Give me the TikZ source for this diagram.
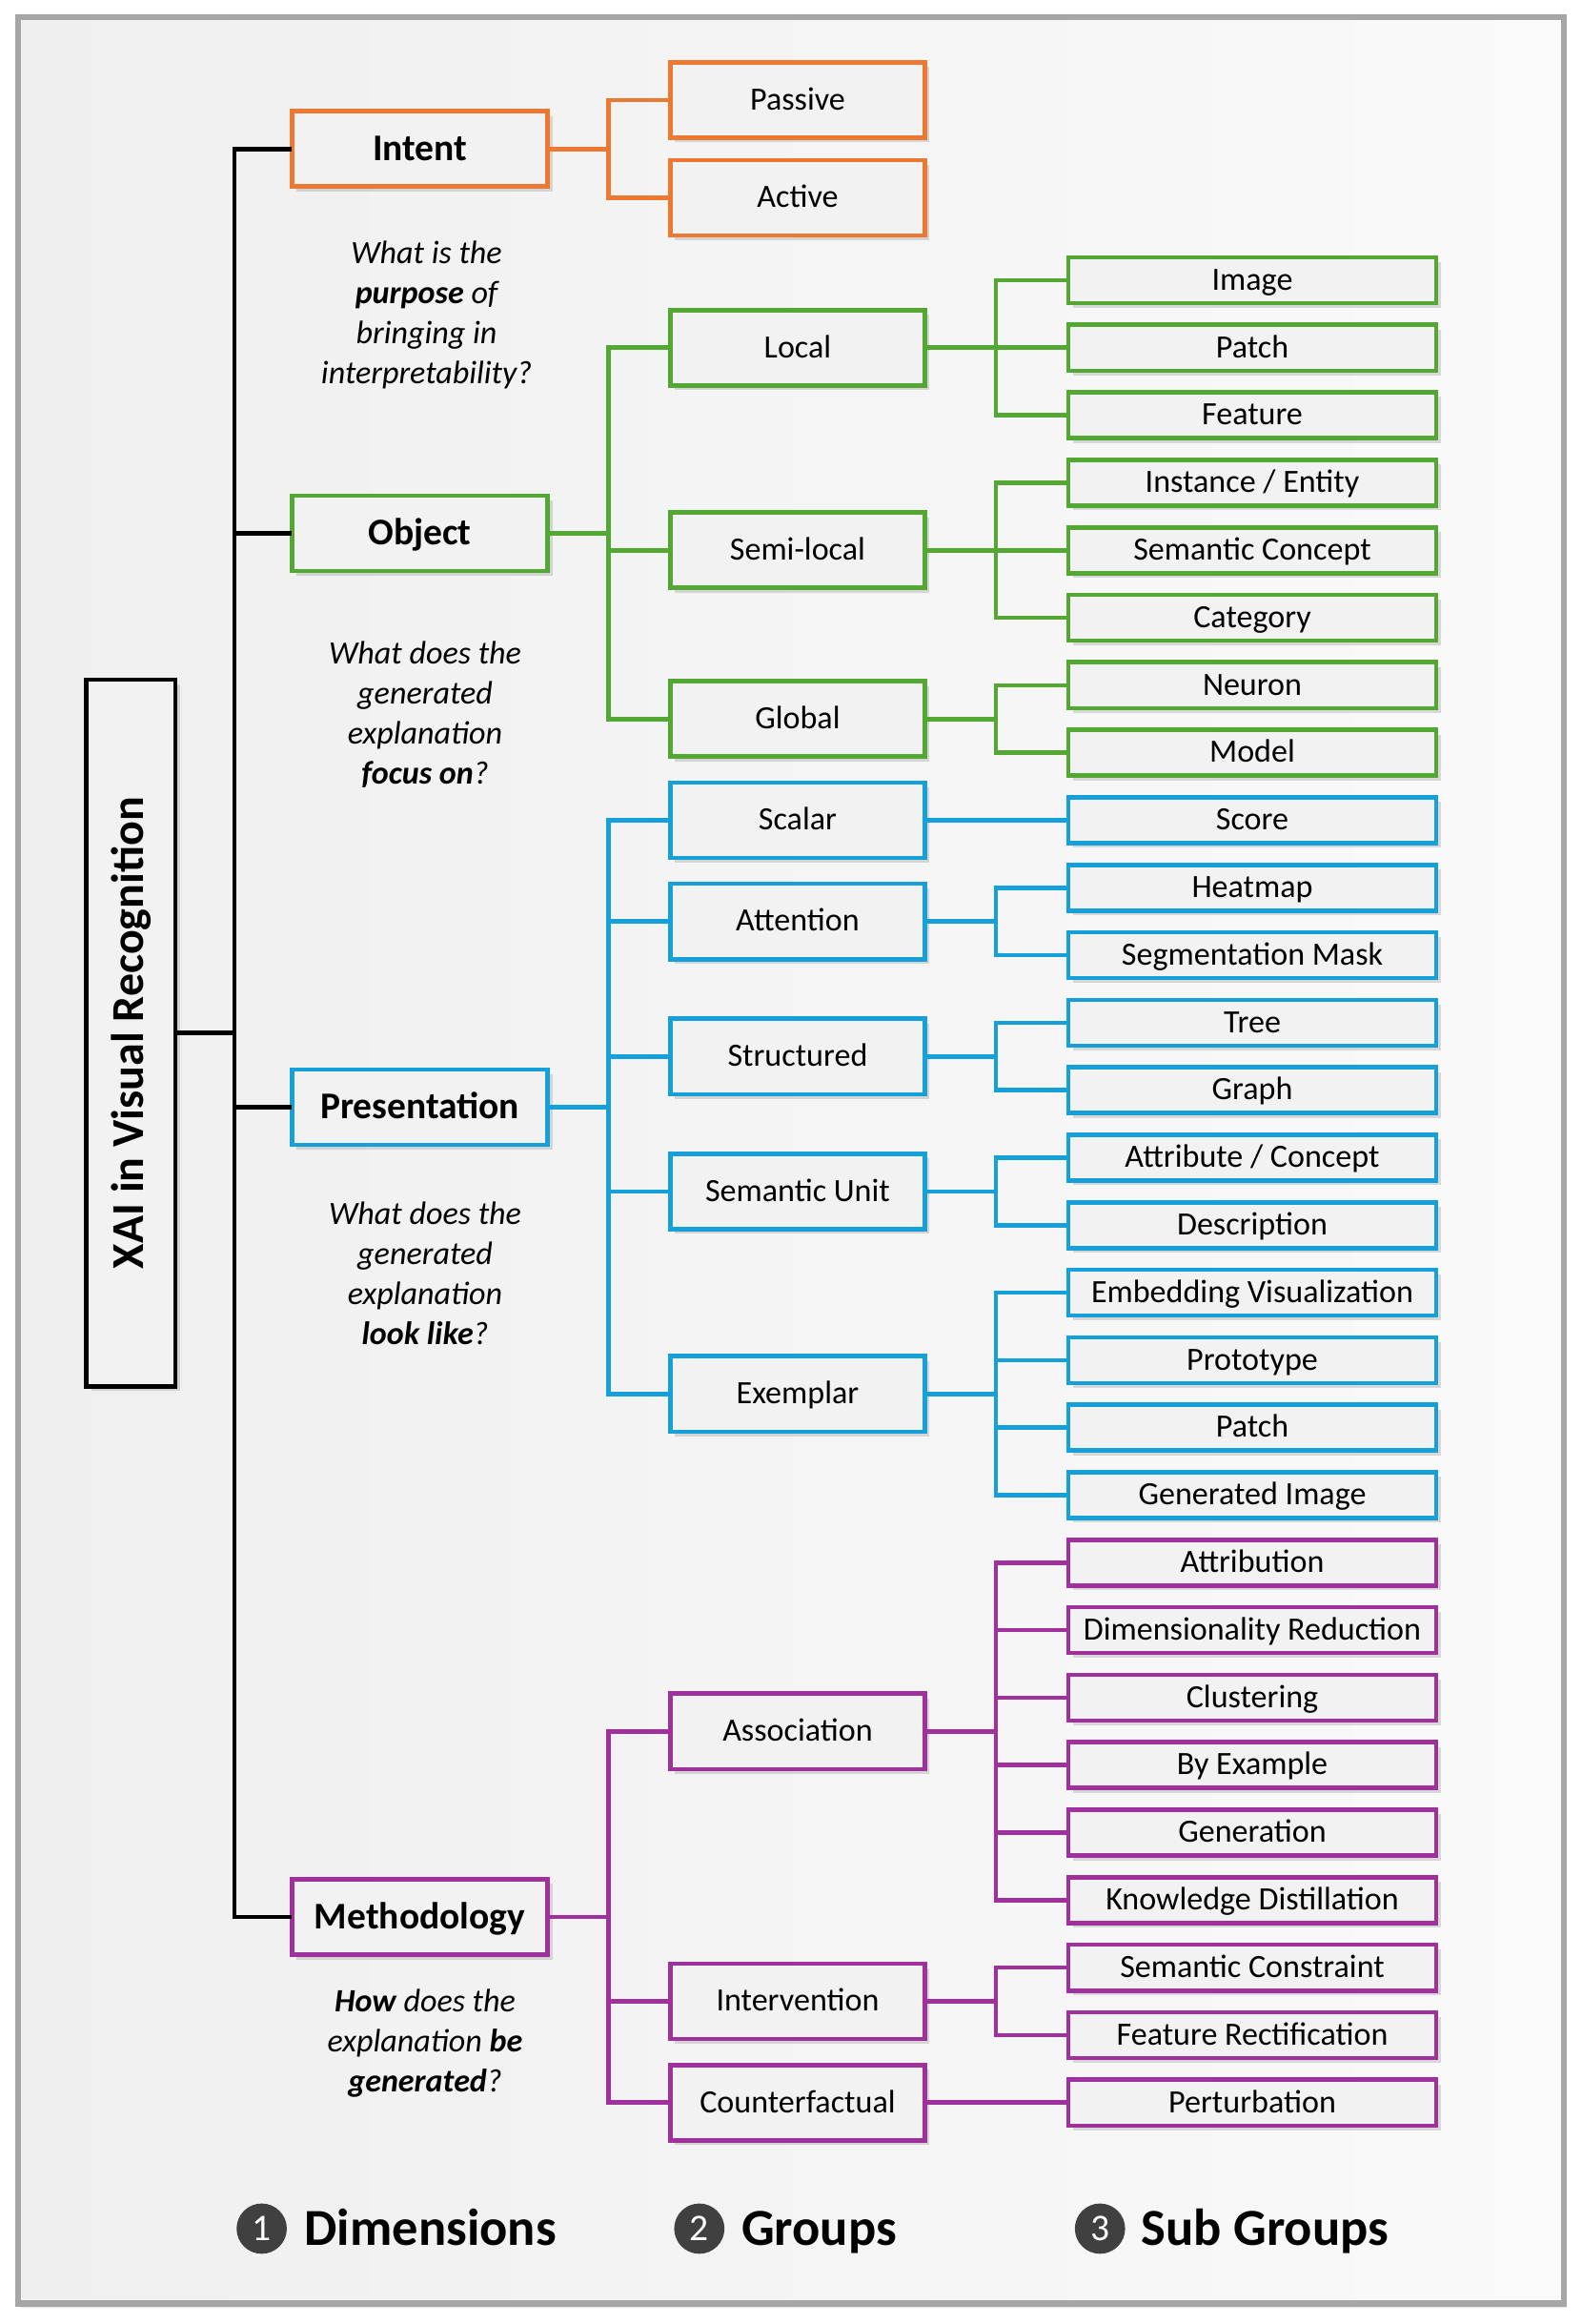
\documentclass[tikz,border=0pt]{standalone}
\usepackage{fontspec}
\setmainfont{Carlito}
\usepackage{graphicx}
\usetikzlibrary{positioning, calc, shadows}

\definecolor{cIntent}{RGB}{237,120,50}
\definecolor{cObject}{RGB}{82,168,50}
\definecolor{cPres}{RGB}{22,160,218}
\definecolor{cMethod}{RGB}{160,48,155}
\definecolor{boxfill}{RGB}{242,242,242}
\definecolor{framegray}{RGB}{166,166,166}
\definecolor{bgleft}{RGB}{239,239,239}
\definecolor{bgright}{RGB}{250,250,250}
\definecolor{legdark}{RGB}{64,64,64}

\tikzset{
  basebox/.style={rectangle, draw, line width=1.7pt, fill=boxfill, outer sep=0pt, inner xsep=2pt, inner ysep=0pt,
    drop shadow={shadow xshift=1.8pt, shadow yshift=-1.8pt, opacity=0.22, fill=black!60}},
  subbox/.style={basebox, text height=9.2pt, text depth=1.7pt, minimum width=4.98cm, minimum height=0.62cm, font=\fontsize{12.5}{15}\selectfont},
  groupbox/.style={basebox, text height=9.2pt, text depth=1.7pt, minimum width=3.44cm, minimum height=1.02cm, font=\fontsize{12.5}{15}\selectfont},
  dimbox/.style={basebox, text height=10.7pt, text depth=1.9pt, minimum width=3.46cm, minimum height=1.02cm, font=\bfseries\fontsize{14.5}{17}\selectfont},
  rootbox/.style={basebox, draw=black, minimum width=1.2cm, minimum height=9.56cm, font=\bfseries\fontsize{17.6}{20}\selectfont},
  question/.style={align=center, inner sep=0pt, font=\itshape\fontsize{12.5}{15.4}\selectfont},
  conn/.style={line width=1.7pt},
  legcircle/.style={circle, fill=legdark, text=white, minimum size=0.68cm, inner sep=0pt, outer sep=0pt, text height=10.7pt, text depth=1.6pt, font=\fontsize{14.5}{16}\selectfont},
  legtext/.style={inner sep=0pt, outer sep=0pt, text height=15pt, text depth=2.4pt, font=\bfseries\fontsize{20}{24}\selectfont}
}

\begin{document}
\begin{tikzpicture}[x=0.02cm, y=-0.02cm, node distance=0.293cm]
\useasboundingbox (0,0) rectangle (1070,1571.5);

% frame and background
\fill[black!10] (14.5,14) rectangle (1060,1560.5);
\draw[line width=0.08cm, draw=framegray, left color=bgleft, right color=bgright] (12.2,11.6) rectangle (1057.7,1557.6);

% sub groups
\node[subbox, draw=cObject] (image) at (847,189.5) {Image};
\node[subbox, draw=cObject, below=of image] (patchl) {Patch};
\node[subbox, draw=cObject, below=of patchl] (feature) {Feature};
\node[subbox, draw=cObject, below=of feature] (instance) {Instance / Entity};
\node[subbox, draw=cObject, below=of instance] (semconcept) {Semantic Concept};
\node[subbox, draw=cObject, below=of semconcept] (category) {Category};
\node[subbox, draw=cObject, below=of category] (neuron) {Neuron};
\node[subbox, draw=cObject, below=of neuron] (model) {Model};
\node[subbox, draw=cPres, below=of model] (score) {Score};
\node[subbox, draw=cPres, below=of score] (heatmap) {Heatmap};
\node[subbox, draw=cPres, below=of heatmap] (segmask) {Segmentation Mask};
\node[subbox, draw=cPres, below=of segmask] (tree) {Tree};
\node[subbox, draw=cPres, below=of tree] (graph) {Graph};
\node[subbox, draw=cPres, below=of graph] (attrconcept) {Attribute / Concept};
\node[subbox, draw=cPres, below=of attrconcept] (description) {Description};
\node[subbox, draw=cPres, below=of description] (embedding) {Embedding Visualization};
\node[subbox, draw=cPres, below=of embedding] (prototype) {Prototype};
\node[subbox, draw=cPres, below=of prototype] (patche) {Patch};
\node[subbox, draw=cPres, below=of patche] (genimage) {Generated Image};
\node[subbox, draw=cMethod, below=of genimage] (attribution) {Attribution};
\node[subbox, draw=cMethod, below=of attribution] (dimred) {Dimensionality Reduction};
\node[subbox, draw=cMethod, below=of dimred] (clustering) {Clustering};
\node[subbox, draw=cMethod, below=of clustering] (byexample) {By Example};
\node[subbox, draw=cMethod, below=of byexample] (generation) {Generation};
\node[subbox, draw=cMethod, below=of generation] (distill) {Knowledge Distillation};
\node[subbox, draw=cMethod, below=of distill] (semconstraint) {Semantic Constraint};
\node[subbox, draw=cMethod, below=of semconstraint] (rectify) {Feature Rectification};
\node[subbox, draw=cMethod, below=of rectify] (perturb) {Perturbation};

% groups
\node[groupbox, draw=cIntent] (passive) at (539.5,67.7) {Passive};
\node[groupbox, draw=cIntent, below=0.30cm of passive] (active) {Active};
\node[groupbox, draw=cObject] (local) at ($(image)!0.5!(feature)+(-307.5,0)$) {Local};
\node[groupbox, draw=cObject] (semilocal) at ($(instance)!0.5!(category)+(-307.5,0)$) {Semi-local};
\node[groupbox, draw=cObject] (global) at ($(neuron)!0.5!(model)+(-307.5,0)$) {Global};
\node[groupbox, draw=cPres] (scalar) at ($(score)+(-307.5,0)$) {Scalar};
\node[groupbox, draw=cPres] (attention) at ($(heatmap)!0.5!(segmask)+(-307.5,0)$) {Attention};
\node[groupbox, draw=cPres] (structured) at ($(tree)!0.5!(graph)+(-307.5,0)$) {Structured};
\node[groupbox, draw=cPres] (semunit) at ($(attrconcept)!0.5!(description)+(-307.5,0)$) {Semantic Unit};
\node[groupbox, draw=cPres] (exemplar) at ($(embedding)!0.5!(genimage)+(-307.5,0)$) {Exemplar};
\node[groupbox, draw=cMethod] (association) at ($(attribution)!0.5!(distill)+(-307.5,0)$) {Association};
\node[groupbox, draw=cMethod] (intervention) at ($(semconstraint)!0.5!(rectify)+(-307.5,0)$) {Intervention};
\node[groupbox, draw=cMethod] (counterfactual) at ($(perturb)+(-307.5,0)$) {Counterfactual};

% dimensions
\node[dimbox, draw=cIntent] (intent) at ($(passive)!0.5!(active)+(-255.5,0)$) {Intent};
\node[dimbox, draw=cObject] (object) at ($(local)!0.5!(global)+(-255.5,0)$) {Object};
\node[dimbox, draw=cPres] (presentation) at ($(scalar)!0.5!(exemplar)+(-255.5,0)$) {Presentation};
\node[dimbox, draw=cMethod] (methodology) at ($(association)!0.5!(counterfactual)+(-255.5,0)$) {Methodology};

\node[rootbox] (root) at ($(intent)!0.5!(methodology)+(-195.5,0)$) {\rotatebox{90}{XAI in Visual Recognition}};

% questions
\node[question] (qintent) at ($(intent)+(4.5,112.5)$) {What is the\\ \textbf{purpose} of\\ bringing in\\ interpretability?};
\node[question] (qobject) at ($(object)+(3.5,122.5)$) {What does the\\ generated\\ explanation\\ \textbf{focus on}?};
\node[question] (qpres) at ($(presentation)+(3.5,112.5)$) {What does the\\ generated\\ explanation\\ \textbf{look like}?};
\node[question] (qmethod) at ($(methodology)+(3.5,85.5)$) {\textbf{How} does the\\ explanation \textbf{be}\\ \textbf{generated}?};

% root to dimensions
\draw[conn] (root.east) -- ++(40,0) |- (intent.west);
\draw[conn] (root.east) -- ++(40,0) |- (object.west);
\draw[conn] (root.east) -- ++(40,0) |- (presentation.west);
\draw[conn] (root.east) -- ++(40,0) |- (methodology.west);

% dimensions to groups
\draw[conn, cIntent] (intent.east) -- ++(41,0) |- (passive.west);
\draw[conn, cIntent] (intent.east) -- ++(41,0) |- (active.west);
\draw[conn, cObject] (object.east) -- ++(41,0) |- (local.west);
\draw[conn, cObject] (object.east) -- ++(41,0) |- (semilocal.west);
\draw[conn, cObject] (object.east) -- ++(41,0) |- (global.west);
\draw[conn, cPres] (presentation.east) -- ++(41,0) |- (scalar.west);
\draw[conn, cPres] (presentation.east) -- ++(41,0) |- (attention.west);
\draw[conn, cPres] (presentation.east) -- ++(41,0) |- (structured.west);
\draw[conn, cPres] (presentation.east) -- ++(41,0) |- (semunit.west);
\draw[conn, cPres] (presentation.east) -- ++(41,0) |- (exemplar.west);
\draw[conn, cMethod] (methodology.east) -- ++(41,0) |- (association.west);
\draw[conn, cMethod] (methodology.east) -- ++(41,0) |- (intervention.west);
\draw[conn, cMethod] (methodology.east) -- ++(41,0) |- (counterfactual.west);

% groups to sub groups
\draw[conn, cObject] (local.east) -- ++(48,0) |- (image.west);
\draw[conn, cObject] (local.east) -- ++(48,0) |- (patchl.west);
\draw[conn, cObject] (local.east) -- ++(48,0) |- (feature.west);
\draw[conn, cObject] (semilocal.east) -- ++(48,0) |- (instance.west);
\draw[conn, cObject] (semilocal.east) -- ++(48,0) |- (semconcept.west);
\draw[conn, cObject] (semilocal.east) -- ++(48,0) |- (category.west);
\draw[conn, cObject] (global.east) -- ++(48,0) |- (neuron.west);
\draw[conn, cObject] (global.east) -- ++(48,0) |- (model.west);
\draw[conn, cPres] (scalar.east) -- (score.west);
\draw[conn, cPres] (attention.east) -- ++(48,0) |- (heatmap.west);
\draw[conn, cPres] (attention.east) -- ++(48,0) |- (segmask.west);
\draw[conn, cPres] (structured.east) -- ++(48,0) |- (tree.west);
\draw[conn, cPres] (structured.east) -- ++(48,0) |- (graph.west);
\draw[conn, cPres] (semunit.east) -- ++(48,0) |- (attrconcept.west);
\draw[conn, cPres] (semunit.east) -- ++(48,0) |- (description.west);
\draw[conn, cPres] (exemplar.east) -- ++(48,0) |- (embedding.west);
\draw[conn, cPres] (exemplar.east) -- ++(48,0) |- (prototype.west);
\draw[conn, cPres] (exemplar.east) -- ++(48,0) |- (patche.west);
\draw[conn, cPres] (exemplar.east) -- ++(48,0) |- (genimage.west);
\draw[conn, cMethod] (association.east) -- ++(48,0) |- (attribution.west);
\draw[conn, cMethod] (association.east) -- ++(48,0) |- (dimred.west);
\draw[conn, cMethod] (association.east) -- ++(48,0) |- (clustering.west);
\draw[conn, cMethod] (association.east) -- ++(48,0) |- (byexample.west);
\draw[conn, cMethod] (association.east) -- ++(48,0) |- (generation.west);
\draw[conn, cMethod] (association.east) -- ++(48,0) |- (distill.west);
\draw[conn, cMethod] (intervention.east) -- ++(48,0) |- (semconstraint.west);
\draw[conn, cMethod] (intervention.east) -- ++(48,0) |- (rectify.west);
\draw[conn, cMethod] (counterfactual.east) -- (perturb.west);

% legend
\node[legcircle] (num1) at (177,1507) {1};
\node[legtext, right=0.24cm of num1] (dimlabel) {Dimensions};
\node[legcircle] (num2) at (473,1507) {2};
\node[legtext, right=0.23cm of num2] (grouplabel) {Groups};
\node[legcircle] (num3) at (744,1507) {3};
\node[legtext, right=0.22cm of num3] (sublabel) {Sub Groups};

\end{tikzpicture}
\end{document}
